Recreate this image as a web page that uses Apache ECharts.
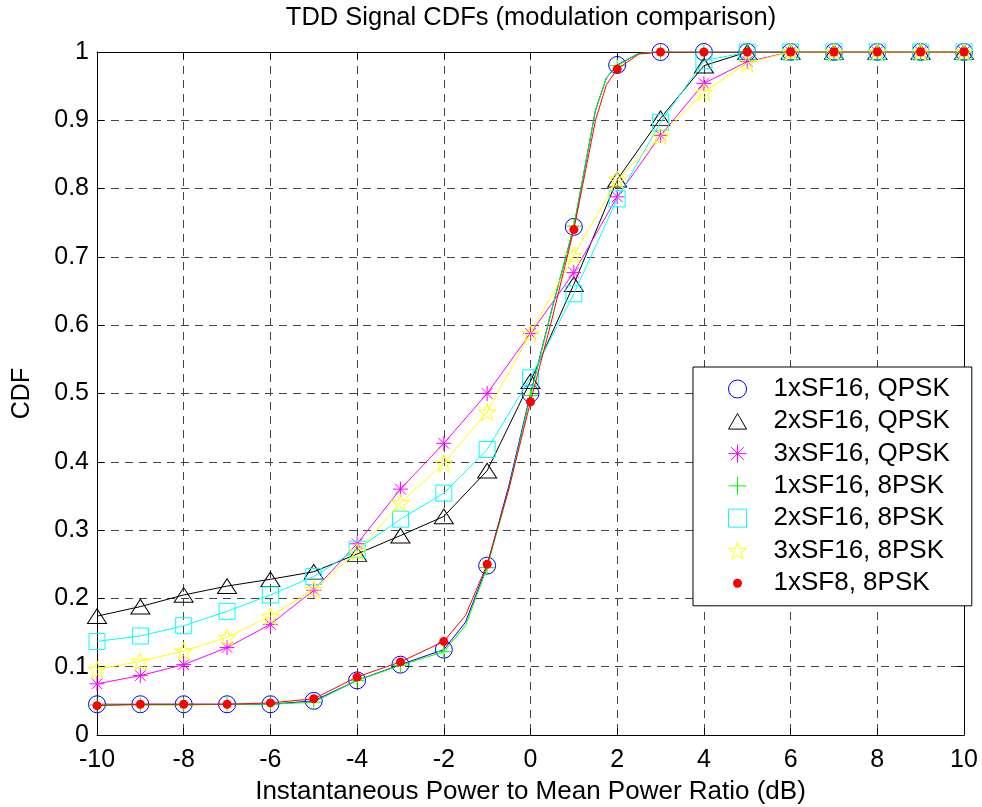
<!DOCTYPE html>
<html>
<head>
<meta charset="utf-8">
<script src="https://cdn.jsdelivr.net/npm/echarts@6/dist/echarts.min.js"></script>
<style>html,body{margin:0;padding:0;background:#fff;}</style>
</head>
<body>
<div id="main" style="width:982px;height:807px"></div>
<script>
// ---- data ----
const xVals = [-10,-9,-8,-7,-6,-5,-4,-3,-2,-1,0,1,2,3,4,5,6,7,8,9,10];
const seriesNames = ['1xSF16, QPSK','2xSF16, QPSK','3xSF16, QPSK','1xSF16, 8PSK','2xSF16, 8PSK','3xSF16, 8PSK','1xSF8, 8PSK'];
const sf16Qpsk1 = [0.045,0.045,0.045,0.045,0.045,0.050,0.080,0.103,0.125,0.248,0.500,0.744,0.981,1,1,1,1,1,1,1,1];
const sf16Qpsk2 = [0.174,0.188,0.205,0.218,0.228,0.239,0.265,0.292,0.320,0.387,0.518,0.660,0.813,0.903,0.980,1,1,1,1,1,1];
const sf16Qpsk3 = [0.075,0.087,0.103,0.128,0.162,0.212,0.280,0.360,0.427,0.500,0.588,0.677,0.788,0.878,0.954,0.986,1,1,1,1,1];
const sf16Psk1  = [0.044,0.044,0.044,0.045,0.045,0.048,0.080,0.102,0.122,0.245,0.497,0.745,0.980,1,1,1,1,1,1,1,1];
const sf16Psk2  = [0.137,0.145,0.160,0.181,0.205,0.232,0.272,0.316,0.354,0.418,0.523,0.646,0.785,0.897,0.987,1,1,1,1,1,1];
const sf16Psk3  = [0.096,0.108,0.123,0.143,0.174,0.213,0.268,0.340,0.398,0.473,0.588,0.702,0.813,0.877,0.941,0.984,1,1,1,1,1];
const sf8Psk1   = [0.043,0.045,0.045,0.045,0.047,0.053,0.085,0.107,0.137,0.250,0.488,0.740,0.975,1,1,1,1,1,1,1,1];
// extra readings of the steep curves between markers
const midX = [-1.5,-0.5,0.5,1.5,1.75,2.5];
const sf16Qpsk1Mid = [0.165,0.365,0.625,0.915,0.962,0.998];
const sf16Psk1Mid  = [0.160,0.360,0.625,0.915,0.962,0.998];
const sf8Psk1Mid   = [0.175,0.360,0.610,0.900,0.952,0.997];
const xTicks = [-10,-8,-6,-4,-2,0,2,4,6,8,10];
const yTicks = [0,0.1,0.2,0.3,0.4,0.5,0.6,0.7,0.8,0.9,1];

// ---- styles ----
const FONT = '"Liberation Sans", Arial, sans-serif';
const STAR = 'path://M10,0L12.245,6.91L19.511,6.91L13.633,11.18L15.878,18.09L10,13.82L4.122,18.09L6.367,11.18L0.489,6.91L7.755,6.91Z';
const ASTER = 'path://M0,8L16,8M8,0L8,16M2.3,2.3L13.7,13.7M13.7,2.3L2.3,13.7';
const PLUS = 'path://M0,8L16,8M8,0L8,16';
const TRI = 'path://M10,0L20,17.32L0,17.32Z';
const SQR = 'path://M0,0L16,0L16,16L0,16Z';
const styles = [
  {c:'#0000ff', sym:'circle', size:17, fill:'rgba(0,0,0,0)', bw:1},
  {c:'#000000', sym:TRI, size:[19,17], fill:'rgba(0,0,0,0)', bw:1},
  {c:'#ff00ff', sym:ASTER, size:15, fill:'rgba(0,0,0,0)', bw:1},
  {c:'#00ff00', sym:PLUS, size:15, fill:'rgba(0,0,0,0)', bw:1},
  {c:'#00ffff', sym:SQR, size:16, fill:'rgba(0,0,0,0)', bw:1},
  {c:'#ffff00', sym:STAR, size:18, fill:'rgba(0,0,0,0)', bw:1},
  {c:'#ff0000', sym:'circle', size:9, fill:'#ff0000', bw:0}
];
const allY = [sf16Qpsk1, sf16Qpsk2, sf16Qpsk3, sf16Psk1, sf16Psk2, sf16Psk3, sf8Psk1];
const mids = [sf16Qpsk1Mid, null, null, sf16Psk1Mid, null, null, sf8Psk1Mid];

const series = [];
allY.forEach((ys, i) => {
  const pts = xVals.map((x, k) => [x, ys[k]]);
  let linePts = pts.slice();
  if (mids[i]) {
    midX.forEach((x, k) => linePts.push([x, mids[i][k]]));
    linePts.sort((a, b) => a[0] - b[0]);
  }
  const st = styles[i];
  series.push({
    type: 'line', name: seriesNames[i] + ' line', data: linePts, xAxisIndex: 0, yAxisIndex: 0,
    showSymbol: false, symbol: 'none', silent: true,
    lineStyle: {color: st.c, width: 1}, itemStyle: {color: st.c}, z: 2 + i * 2
  });
  series.push({
    type: 'scatter', name: seriesNames[i], data: pts, xAxisIndex: 0, yAxisIndex: 0,
    symbol: st.sym, symbolSize: st.size, symbolKeepAspect: true, silent: true,
    itemStyle: {color: st.fill, borderColor: st.c, borderWidth: st.bw, opacity: 1},
    z: 3 + i * 2
  });
});

const axisLineStyle = {show: true, onZero: false, lineStyle: {color: '#000', width: 1}};
const tickStyle = {show: true, inside: true, length: 7, lineStyle: {color: '#000', width: 1}};
const gridLine = {show: true, lineStyle: {type: [8, 6], color: '#444', width: 1}};

const legendData = seriesNames.map((n, i) => i === 6
  ? {name: n, itemStyle: {borderColor: '#ffffff', borderWidth: 9}}
  : {name: n});

const option = {
  animation: false,
  backgroundColor: '#ffffff',
  grid: {left: 97, right: 18, top: 52, bottom: 72, containLabel: false, outerBoundsMode: 'none'},
  graphic: [{
    type: 'text', x: 531, y: 5, z: 100,
    style: {text: 'TDD Signal CDFs (modulation comparison)', font: '25.5px ' + FONT, fill: '#000', textAlign: 'center', textVerticalAlign: 'top'}
  }],
  legend: {
    data: legendData, orient: 'vertical', left: 693, top: 367,
    itemWidth: 18, itemHeight: 18, itemGap: 6.3,
    padding: [9, 22, 9, 31],
    backgroundColor: '#ffffff', borderColor: '#000', borderWidth: 1, borderRadius: 0,
    selectedMode: false, symbolKeepAspect: true,
    itemStyle: {borderWidth: 1},
    textStyle: {fontSize: 26, fontFamily: FONT, color: '#000', lineHeight: 26, padding: [0, 0, 0, 22]}
  },
  xAxis: [{
    type: 'value', min: -10, max: 10, interval: 2, position: 'bottom',
    axisLine: axisLineStyle, axisTick: tickStyle, splitLine: gridLine,
    axisLabel: {fontSize: 25, fontFamily: FONT, color: '#000', margin: 13,
      formatter: v => xTicks.includes(v) ? String(v) : ''},
    name: 'Instantaneous Power to Mean Power Ratio (dB)', nameLocation: 'middle', nameGap: 44,
    nameTextStyle: {fontSize: 26, fontFamily: FONT, color: '#000'}
  }, {
    type: 'value', min: -10, max: 10, interval: 2, position: 'top',
    axisLine: axisLineStyle, axisTick: tickStyle, splitLine: {show: false}, axisLabel: {show: false}
  }],
  yAxis: [{
    type: 'value', min: 0, max: 1, interval: 0.1, position: 'left',
    axisLine: axisLineStyle, axisTick: tickStyle, splitLine: gridLine,
    axisLabel: {fontSize: 25, fontFamily: FONT, color: '#000', margin: 8,
      formatter: v => { const r = Math.round(v * 10) / 10; return yTicks.includes(r) ? String(r) : ''; }},
    name: 'CDF', nameLocation: 'middle', nameGap: 62, nameRotate: 90,
    nameTextStyle: {fontSize: 25, fontFamily: FONT, color: '#000'}
  }, {
    type: 'value', min: 0, max: 1, interval: 0.1, position: 'right',
    axisLine: axisLineStyle, axisTick: tickStyle, splitLine: {show: false}, axisLabel: {show: false}
  }],
  series: series
};
const chart = echarts.init(document.getElementById('main'), null, {renderer: 'canvas'});
chart.setOption(option);
</script>
</body>
</html>
